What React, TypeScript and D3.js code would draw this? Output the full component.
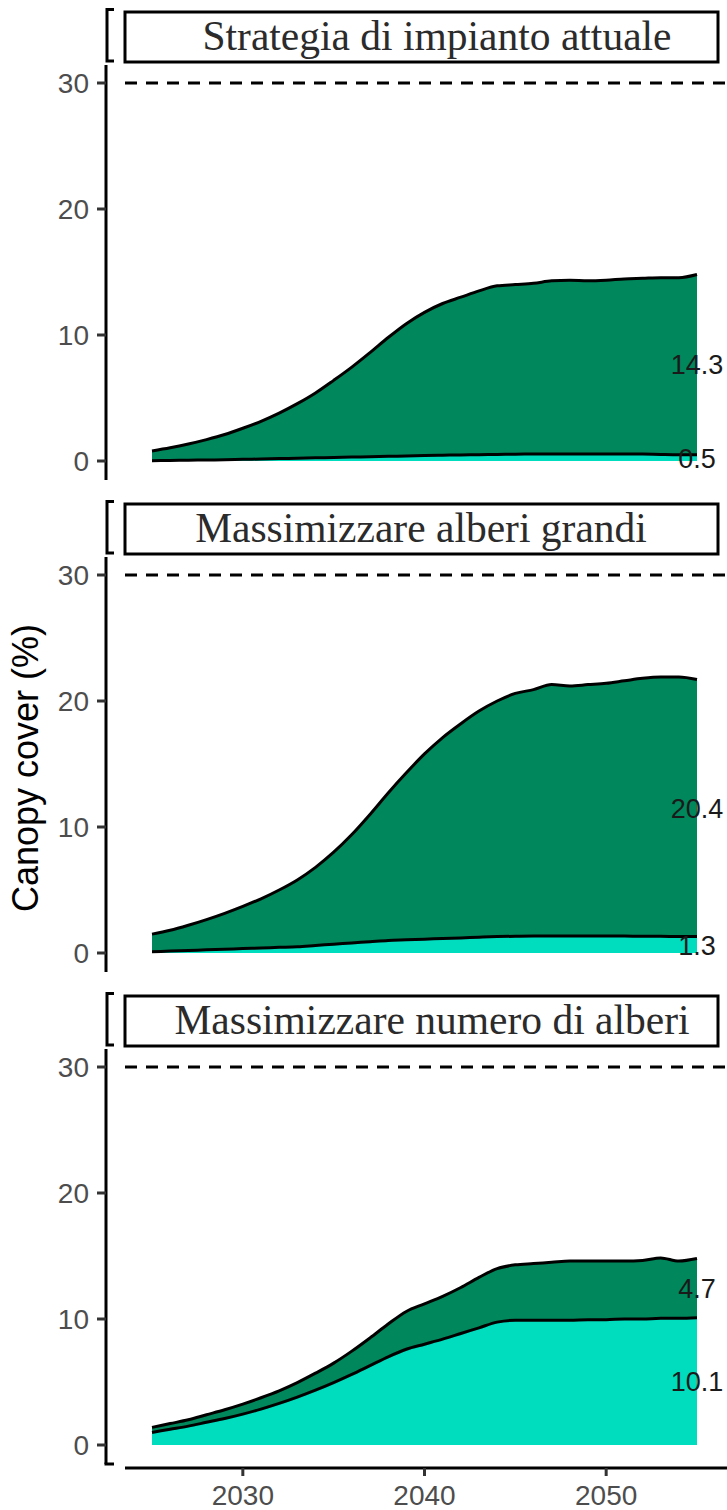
import React from "react";
import * as d3 from "d3";

const years = d3.range(2025, 2056);

const panelTitles = [
  "Strategia di impianto attuale",
  "Massimizzare alberi grandi",
  "Massimizzare numero di alberi",
];

// lower band (light teal) values
const lower1 = [0.02,0.04,0.06,0.08,0.1,0.13,0.16,0.19,0.22,0.25,0.28,0.31,0.34,0.37,0.4,0.43,0.46,0.48,0.5,0.52,0.54,0.55,0.56,0.56,0.56,0.56,0.56,0.55,0.52,0.5,0.5];
const total1 = [0.8,1.05,1.35,1.7,2.1,2.6,3.15,3.8,4.55,5.4,6.4,7.45,8.6,9.8,10.9,11.8,12.5,13.0,13.5,13.9,14.0,14.1,14.3,14.35,14.3,14.35,14.45,14.5,14.55,14.55,14.8];

const lower2 = [0.1,0.15,0.2,0.25,0.3,0.35,0.4,0.45,0.5,0.6,0.7,0.8,0.9,1.0,1.05,1.1,1.15,1.2,1.25,1.3,1.33,1.35,1.35,1.35,1.35,1.35,1.34,1.33,1.32,1.31,1.3];
const total2 = [1.5,1.8,2.2,2.65,3.15,3.7,4.3,5.0,5.8,6.8,8.0,9.4,11.0,12.7,14.3,15.8,17.1,18.2,19.2,20.0,20.6,20.9,21.3,21.2,21.3,21.4,21.6,21.8,21.9,21.9,21.7];

const lower3 = [1.0,1.25,1.5,1.8,2.1,2.45,2.85,3.3,3.8,4.35,4.95,5.6,6.3,7.0,7.6,8.0,8.4,8.85,9.3,9.75,9.9,9.9,9.9,9.9,9.95,9.95,10.0,10.0,10.05,10.05,10.1];
const total3 = [1.4,1.7,2.0,2.4,2.8,3.25,3.75,4.3,4.95,5.7,6.5,7.45,8.5,9.6,10.6,11.2,11.8,12.5,13.3,14.0,14.3,14.4,14.5,14.6,14.6,14.6,14.6,14.65,14.85,14.6,14.8];

const lowerLabels = ["0.5", "1.3", "10.1"];
const upperLabels = ["14.3", "20.4", "4.7"];

const yTicks = [0, 10, 20, 30];
const xTicks = [2030, 2040, 2050];
const target = 30;

const panels = [
  { lower: lower1, total: total1 },
  { lower: lower2, total: total2 },
  { lower: lower3, total: total3 },
];

const titleCenters = [437, 421, 432];

const DARK = "#00875B";
const LIGHT = "#00DCBE";
const W = 727;
const H = 1510;

export default function App() {
  const x = d3.scaleLinear().domain([2025, 2055]).range([152, 697]);
  const xAxisY = 1468;
  return (
    <svg width={W} height={H} style={{ display: "block", position: "absolute", left: 0, top: 0, background: "#fff" }}>
      <rect x={0} y={0} width={W} height={H} fill="#fff" />
      {panels.map((p, i) => {
        const T = 8 + 492 * i;
        const y = d3.scaleLinear().domain([0, 30]).range([T + 453, T + 75]);
        const lowerArea = d3
          .area<number>()
          .x((_, k) => x(years[k]))
          .y0(() => y(0))
          .y1((d) => y(d))
          .curve(d3.curveMonotoneX);
        const upperArea = d3
          .area<number>()
          .x((_, k) => x(years[k]))
          .y0((_, k) => y(p.lower[k]))
          .y1((d) => y(d))
          .curve(d3.curveMonotoneX);
        const line = d3
          .line<number>()
          .x((_, k) => x(years[k]))
          .y((d) => y(d))
          .curve(d3.curveMonotoneX);
        const n = years.length - 1;
        const lowEnd = p.lower[n];
        const upEnd = p.total[n] - p.lower[n];
        return (
          <g key={i}>
            <path
              d={`M114,${T + 1.5} H107 V${T + 53} H114`}
              fill="none"
              stroke="#000"
              strokeWidth={3}
            />
            <rect x={125} y={T + 4} width={593} height={50} fill="#fff" stroke="#000" strokeWidth={3} />
            <text
              x={titleCenters[i]}
              y={T + 42}
              textAnchor="middle"
              fontFamily="'Liberation Serif', 'Times New Roman', serif"
              fontSize={41.5}
              fill="#2b2b2b"
            >
              {panelTitles[i]}
            </text>
            <path d={upperArea(p.total) || ""} fill={DARK} />
            <path d={lowerArea(p.lower) || ""} fill={LIGHT} />
            <path d={line(p.lower) || ""} fill="none" stroke="#000" strokeWidth={3} />
            <path d={line(p.total) || ""} fill="none" stroke="#000" strokeWidth={3} />
            <line x1={125} x2={W} y1={y(target)} y2={y(target)} stroke="#000" strokeWidth={3} strokeDasharray="12,9" />
            <line x1={106} x2={106} y1={T + 57} y2={T + 472} stroke="#000" strokeWidth={3} />
            {i === 2 && <line x1={104.5} x2={114} y1={T + 472} y2={T + 472} stroke="#000" strokeWidth={3} />}
            {yTicks.map((t) => (
              <g key={t}>
                <line x1={97} x2={106} y1={y(t)} y2={y(t)} stroke="#333" strokeWidth={3} />
                <text
                  x={89}
                  y={y(t)}
                  dy="0.36em"
                  textAnchor="end"
                  fontFamily="'Liberation Sans', Arial, sans-serif"
                  fontSize={28}
                  fill="#4d4d4d"
                >
                  {t}
                </text>
              </g>
            ))}
            <text
              x={x(2055)}
              y={y(lowEnd / 2)}
              dy="0.36em"
              textAnchor="middle"
              fontFamily="'Liberation Sans', Arial, sans-serif"
              fontSize={27}
              fill="#1a1a1a"
            >
              {lowerLabels[i]}
            </text>
            <text
              x={x(2055)}
              y={y(lowEnd + upEnd / 2)}
              dy="0.36em"
              textAnchor="middle"
              fontFamily="'Liberation Sans', Arial, sans-serif"
              fontSize={27}
              fill="#1a1a1a"
            >
              {upperLabels[i]}
            </text>
          </g>
        );
      })}
      <line x1={125} x2={W} y1={xAxisY} y2={xAxisY} stroke="#000" strokeWidth={3} />
      {xTicks.map((t) => (
        <g key={t}>
          <line x1={x(t)} x2={x(t)} y1={xAxisY} y2={xAxisY + 8} stroke="#333" strokeWidth={3} />
          <text
            x={x(t)}
            y={xAxisY + 37}
            textAnchor="middle"
            fontFamily="'Liberation Sans', Arial, sans-serif"
            fontSize={28}
            fill="#4d4d4d"
          >
            {t}
          </text>
        </g>
      ))}
      <text
        transform="translate(38,768) rotate(-90)"
        textAnchor="middle"
        fontFamily="'Liberation Sans', Arial, sans-serif"
        fontSize={36}
        fill="#000"
      >
        Canopy cover (%)
      </text>
    </svg>
  );
}
